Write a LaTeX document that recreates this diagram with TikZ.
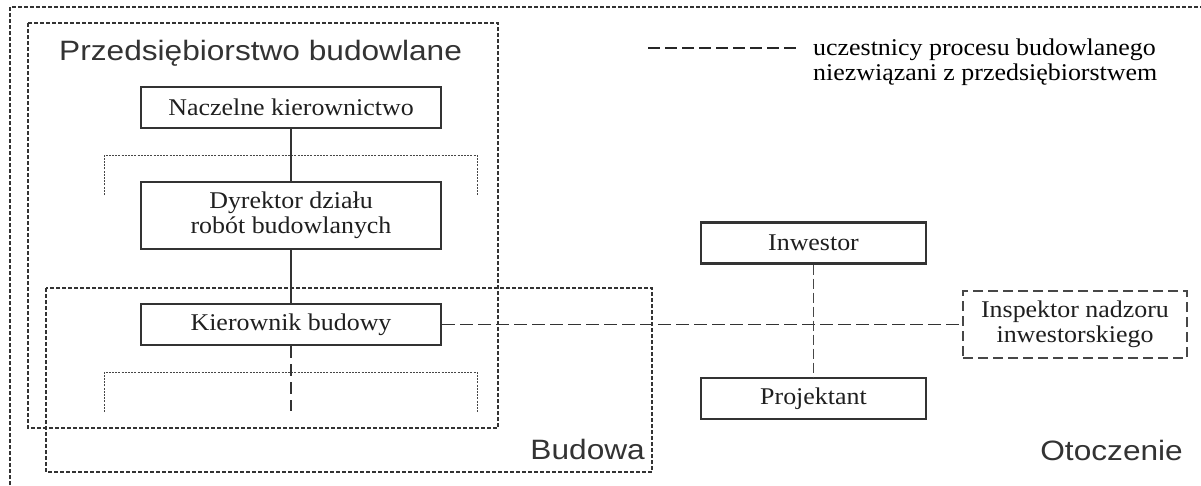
\documentclass[tikz,border=0pt]{standalone}
\usepackage{graphicx}
\usepackage{fontspec}
\setmainfont{Liberation Serif}
\setsansfont{Liberation Sans}
\definecolor{ink}{gray}{0.2}
\definecolor{frameink}{gray}{0.2}
\definecolor{thinink}{gray}{0.28}
% horizontally widened text lines
\newcommand{\sline}[1]{\scalebox{1.08}[1]{#1}}
\newcommand{\wline}[1]{\scalebox{1.13}[1]{#1}}
\tikzset{
  unitbox/.style={draw=ink, line width=2.2pt, rectangle, inner sep=0pt,
    minimum width=300pt, minimum height=41pt, align=center,
    font=\fontsize{24}{25}\selectfont, text=black!88},
  extbox/.style={unitbox, minimum width=225pt},
  outsidebox/.style={unitbox, draw=thinink, line width=1.2pt,
    dash pattern=on 10pt off 5pt, minimum width=224pt, minimum height=67pt},
  zoneframe/.style={draw=frameink, line width=1.9pt, dash pattern=on 4pt off 2pt},
  bracketline/.style={draw=thinink, line width=1pt, dash pattern=on 2pt off 1.2pt},
  solidlink/.style={draw=ink, line width=1.8pt},
  dashlink/.style={draw=ink, line width=1.7pt, dash pattern=on 13pt off 5pt},
  thindashlink/.style={draw=thinink, line width=1.2pt, dash pattern=on 10pt off 4pt},
  zonelabel/.style={font=\sffamily\fontsize{28}{30}\selectfont, text=ink, inner sep=0pt},
  legendtext/.style={font=\fontsize{24}{25}\selectfont, text=black, inner sep=0pt, align=left}
}
\begin{document}
\begin{tikzpicture}[x=1pt,y=-1pt]
\useasboundingbox (0,0) rectangle (1201,485);

% surrounding zones
\draw[zoneframe] (10,485) -- (10,7) -- (1201,7);
\draw[zoneframe] (28,23) rectangle (498,428);
\draw[zoneframe] (46,288) rectangle (652,472);

% zone names
\node[zonelabel, anchor=base west] (firm) at (59,60) {\wline{Przedsiębiorstwo budowlane}};
\node[zonelabel, anchor=base east] (site) at (645,459) {\wline{Budowa}};
\node[zonelabel, anchor=base east] (env) at (1183,460) {\wline{Otoczenie}};

% legend
\coordinate (lgA) at (648,48);
\coordinate (lgB) at (798,48);
\draw[line width=1.2pt, draw=black!85, dash pattern=on 12pt off 5pt] (lgA) -- (lgB);
\node[legendtext, anchor=base west] (lg1) at (813,55) {\sline{uczestnicy procesu budowlanego}};
\node[legendtext, anchor=base west] (lg2) at (813,80) {\sline{niezwiązani z przedsiębiorstwem}};

% company hierarchy
\node[unitbox] (board) at (291,107.5) {\sline{Naczelne kierownictwo}};
\node[unitbox, minimum height=67pt] (director) at (291,215.5) {\sline{Dyrektor działu}\\\sline{robót budowlanych}};
\node[unitbox] (manager) at (291,324.5) {\sline{Kierownik budowy}};

% brackets for further units
\coordinate (b1a) at (104,195); \coordinate (b1b) at (104,155);
\coordinate (b1c) at (477,155); \coordinate (b1d) at (477,195);
\draw[bracketline] (b1a) -- (b1b) -- (b1c) -- (b1d);
\coordinate (b2a) at (104,412); \coordinate (b2b) at (104,372);
\coordinate (b2c) at (477,372); \coordinate (b2d) at (477,412);
\draw[bracketline] (b2a) -- (b2b) -- (b2c) -- (b2d);

% external participants
\node[extbox] (investor) at (813.5,243) {\sline{Inwestor}};
\node[extbox] (designer) at (813.5,398.5) {\sline{Projektant}};
\node[outsidebox] (inspector) at (1075,324.5) {\sline{Inspektor nadzoru}\\\sline{inwestorskiego}};

% links
\draw[solidlink] (board.south) -- (director.north);
\draw[solidlink] (director.south) -- (manager.north);
\coordinate (crew) at (291,411);
\draw[draw=ink, line width=2.2pt, dash pattern=on 12pt off 6pt] (manager.south) -- (crew);
\draw[dashlink] (manager.east) -- (inspector.west);
\draw[thindashlink] (investor.south) -- (designer.north);
\end{tikzpicture}
\end{document}
